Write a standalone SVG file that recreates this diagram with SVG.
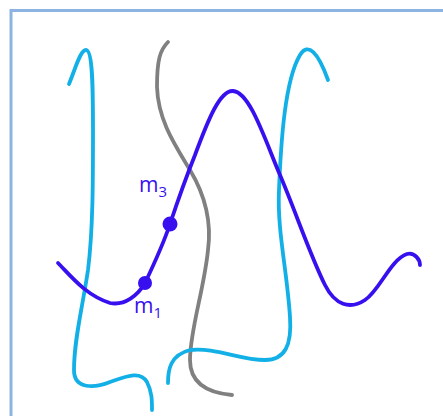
<svg xmlns="http://www.w3.org/2000/svg" width="443" height="416" viewBox="0 0 443 416">
<style>
.c{fill:none;stroke-width:3.8;stroke-linecap:round;stroke-linejoin:round}
.cy{stroke:#12b0e6}
.gr{stroke:#808080}
.bl{stroke:#3810f0}
.lbl{font-family:"Open Sans","Liberation Sans",Arial,sans-serif;fill:#3810f0}
</style>
<rect x="0" y="0" width="443" height="416" fill="#fff"/>
<path d="M11,416 V10.5 H443" fill="none" stroke="#8db3e2" stroke-width="3"/>
<g id="connectors">
<path class="c cy" d="M69,84 C75,70 80,50 86,50 C93,50 93,90 93,133 C93,180 93,230 88,270 C82,310 74,340 74,370 C74,390 95,388 110,382 C125,377 140,370 147,382 C152,392 152,400 152,410"/>
<path class="c gr" d="M168,42 C160,50 157,60 157,87 C158,120 175,145 190,170 C205,195 212,220 208,250 C204,290 190,330 190,360 C190,385 210,393 232,395"/>
<path class="c cy" d="M168,383 C168,370 170,355 190,350 C215,347 240,360 265,360 C285,360 292,345 290,317 C287,270 277,230 279,190 C281,140 285,80 300,55 C308,42 318,52 328,80"/>
<path class="c bl" d="M58,263 C70,275 85,295 110,303 C125,306 138,295 145,283 C155,262 163,245 170,224 C178,200 185,180 195,155 C208,120 220,90 233,91 C250,92 265,140 280,175 C295,210 310,255 325,285 C335,305 350,310 365,300 C380,290 390,260 407,254 C415,252 420,260 420,265"/>
</g>
<g id="m1">
<circle cx="145" cy="283" r="7" fill="#3810f0"/>
<text class="lbl" x="134" y="313" font-size="21">m<tspan font-size="15" dy="5">1</tspan></text>
</g>
<g id="m3">
<circle cx="170" cy="224" r="7.5" fill="#3810f0"/>
<text class="lbl" x="139" y="192" font-size="21">m<tspan font-size="15" dy="5">3</tspan></text>
</g>
</svg>
